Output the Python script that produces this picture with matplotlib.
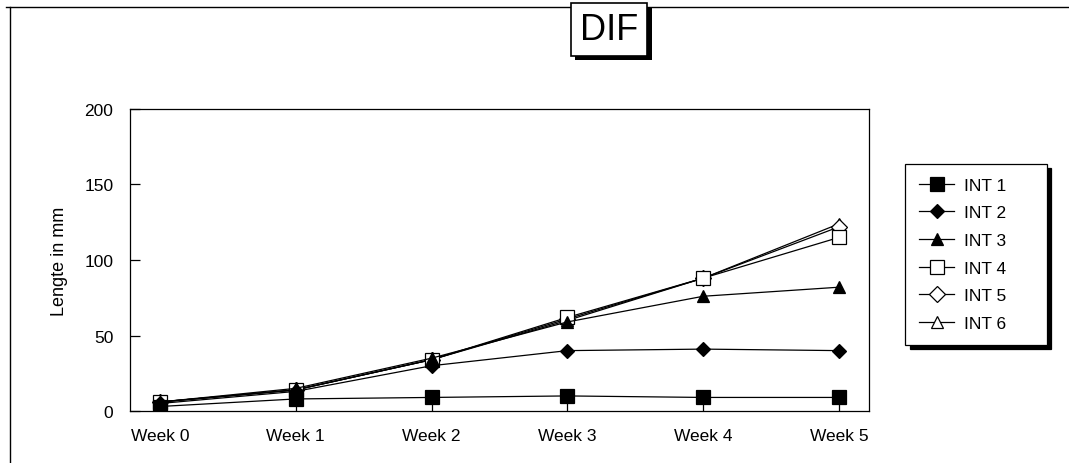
import numpy as np
import matplotlib.pyplot as plt
import matplotlib.patheffects as pe
from matplotlib.lines import Line2D

plt.rcParams['font.family'] = ['Liberation Sans', 'DejaVu Sans']

# ==== data ====
weeks = ['Week 0', 'Week 1', 'Week 2', 'Week 3', 'Week 4', 'Week 5']
int1 = [3, 8, 9, 10, 9, 9]
int2 = [5, 13, 30, 40, 41, 40]
int3 = [6, 15, 35, 59, 76, 82]
int4 = [6, 14, 34, 62, 88, 115]
int5 = [6, 14, 34, 61, 88, 122]
int6 = [6, 14, 34, 60, 88, 124]
labels = ['INT 1', 'INT 2', 'INT 3', 'INT 4', 'INT 5', 'INT 6']
yticks = [0, 50, 100, 150, 200]

series = [int1, int2, int3, int4, int5, int6]
markers = ['s', 'D', '^', 's', 'D', '^']
filled = [True, True, True, False, False, False]
msizes = [10, 7, 9, 10, 8, 9]

fig = plt.figure(figsize=(10.69, 4.64), dpi=100)
ax = fig.add_axes([0.1216, 0.112, 0.6914, 0.651])

x = np.arange(len(weeks))
for i, (vals, m, f, ms, lab) in enumerate(zip(series, markers, filled, msizes, labels)):
    ax.plot(x, vals, color='black', lw=0.9, marker=m, markersize=ms,
            markerfacecolor='black' if f else 'white', markeredgecolor='black',
            markeredgewidth=0.9, label=lab, zorder=10 - i)

ax.set_xlim(-0.22, 5.22)
ax.set_ylim(0, 200)
ax.set_xticks(x)
ax.set_xticklabels(weeks)
ax.set_yticks(yticks)
ax.tick_params(axis='both', direction='in', length=7, width=0.9, labelsize=12.5, color='black')
ax.tick_params(axis='x', pad=12)
ax.tick_params(axis='y', pad=12)
for s in ax.spines.values():
    s.set_linewidth(0.9)
ax.set_ylabel('Lengte in mm', fontsize=13, labelpad=12)

# legend box stretched to a fixed width on the right
leg = ax.legend(loc='upper left', bbox_to_anchor=(0.847, 0.2, 0.132, 0.445),
                bbox_transform=fig.transFigure, mode='expand',
                fontsize=12.5, frameon=True, fancybox=False, edgecolor='black',
                handlelength=2.0, labelspacing=0.72, borderpad=0.8, handletextpad=0.6,
                borderaxespad=0,
                shadow={'ox': 3, 'oy': -3, 'color': 'black', 'alpha': 1})
leg.get_frame().set_linewidth(0.9)

# title in a box with a drop shadow
t = fig.text(0.57, 0.935, 'DIF', fontsize=26, ha='center', va='center',
             bbox=dict(boxstyle='square,pad=0.25', facecolor='white', edgecolor='black', lw=1.2))
t.get_bbox_patch().set_path_effects([pe.withSimplePatchShadow(offset=(3, -3), shadow_rgbFace='black', alpha=1)])

# outer chart frame (top and left edges)
fig.add_artist(Line2D([0.006, 1.0], [0.982, 0.982], color='black', lw=1.0))
fig.add_artist(Line2D([0.009, 0.009], [0.0, 0.982], color='black', lw=1.0))

fig.savefig('out.png', dpi=100)
